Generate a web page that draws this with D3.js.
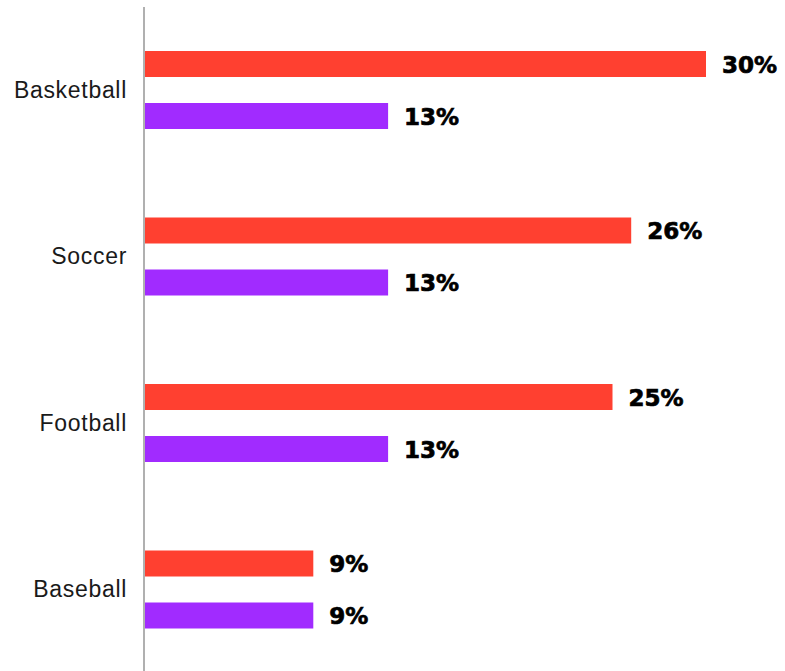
<!DOCTYPE html>
<html>
<head>
<meta charset="utf-8">
<script src="https://cdn.jsdelivr.net/npm/d3@7/dist/d3.min.js"></script>
<style>
  html, body { margin: 0; padding: 0; background: #ffffff; }
  svg { display: block; }
</style>
</head>
<body>
<svg id="chart" width="785" height="671"></svg>
<script>
// Sports, two series of percentages per sport
const categories = ["Basketball", "Soccer", "Football", "Baseball"];
const seriesNames = ["first", "second"];
const firstValues = [30, 26, 25, 9];
const secondValues = [13, 13, 13, 9];
const seriesColors = ["#ff4030", "#a12bff"];

const width = 785, height = 671;
const left = 145, right = 706;
const svg = d3.select("#chart");

const rows = categories.map((c, i) => ({
  category: c,
  values: [firstValues[i], secondValues[i]]
}));

const x = d3.scaleLinear()
  .domain([0, d3.max(firstValues.concat(secondValues))])
  .range([left, right]);

const y0 = d3.scaleBand()
  .domain(categories)
  .range([6.75, 672.75])
  .padding(0);

const y1 = d3.scaleBand()
  .domain(seriesNames)
  .range([44.25, 122.25])
  .paddingInner(0.5)
  .paddingOuter(0);

const color = d3.scaleOrdinal().domain(seriesNames).range(seriesColors);

const groups = svg.append("g")
  .selectAll("g")
  .data(rows)
  .join("g")
  .attr("transform", d => `translate(0,${y0(d.category)})`);

// bars
groups.selectAll("rect")
  .data(d => d.values.map((v, j) => ({ key: seriesNames[j], value: v })))
  .join("rect")
  .attr("x", x(0))
  .attr("y", d => y1(d.key))
  .attr("width", d => x(d.value) - x(0))
  .attr("height", y1.bandwidth())
  .attr("fill", d => color(d.key));

// value labels, heavy weight
groups.selectAll("text.value")
  .data(d => d.values.map((v, j) => ({ key: seriesNames[j], value: v })))
  .join("text")
  .attr("class", "value")
  .attr("x", d => x(d.value) + 16)
  .attr("y", d => y1(d.key) + y1.bandwidth() / 2 + 8.5)
  .attr("font-family", "DejaVu Sans, sans-serif")
  .attr("font-weight", "bold")
  .attr("font-size", 23)
  .attr("fill", "#000")
  .attr("stroke", "#000")
  .attr("stroke-width", 0.7)
  .text(d => d.value + "%");

// category axis
const yAxis = d3.axisLeft(y0).tickSize(0).tickPadding(17);
const axisG = svg.append("g")
  .attr("transform", `translate(${left - 1},0)`)
  .call(yAxis);

axisG.select(".domain")
  .attr("d", `M0,7V${height}`)
  .attr("stroke", "#b0b0b0")
  .attr("stroke-width", 2);

axisG.selectAll(".tick text")
  .attr("font-family", "Liberation Sans, Arial, sans-serif")
  .attr("font-size", 23)
  .attr("letter-spacing", "0.7px")
  .attr("fill", "#1a1a1a")
  .attr("dy", "0.33em");
</script>
</body>
</html>
